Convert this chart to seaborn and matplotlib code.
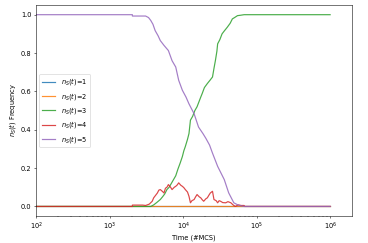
import numpy as np
import pandas as pd
import seaborn as sns
import matplotlib.pyplot as plt

log_t_flat = [2.0, 6.0]
freq_n1 = [0.0, 0.0]
freq_n2 = [0.0, 0.0]

log_t_n3 = [2.0, 3.56, 3.60, 3.64, 3.69, 3.72, 3.75, 3.78, 3.81, 3.84, 3.87, 3.90, 3.93,
            3.96, 3.99, 4.01, 4.03, 4.06, 4.08, 4.10, 4.13, 4.16, 4.19, 4.22, 4.24,
            4.26, 4.29, 4.33, 4.37, 4.40, 4.42, 4.44, 4.46, 4.47, 4.50, 4.53, 4.56,
            4.60, 4.64, 4.67, 4.70, 4.74, 4.78, 4.83, 6.0]
freq_n3 = [0.0, 0.0, 0.008, 0.02, 0.036, 0.05, 0.065, 0.088, 0.1, 0.12, 0.14, 0.16, 0.195,
           0.226, 0.26, 0.29, 0.312, 0.35, 0.38, 0.45, 0.47, 0.5, 0.52, 0.55, 0.57,
           0.589, 0.62, 0.641, 0.66, 0.675, 0.72, 0.762, 0.81, 0.848, 0.87, 0.9, 0.915,
           0.934, 0.955, 0.978, 0.985, 0.995, 0.997, 1.0, 1.0]

log_t_n4 = [2.0, 3.31, 3.31, 3.45, 3.49, 3.54, 3.58, 3.60, 3.63, 3.65, 3.67, 3.69, 3.72, 3.74,
            3.76, 3.78, 3.80, 3.83, 3.85, 3.88, 3.90, 3.92, 3.94, 3.97, 3.99, 4.01,
            4.03, 4.06, 4.08, 4.10, 4.12, 4.15, 4.17, 4.19, 4.22, 4.24, 4.26, 4.28,
            4.31, 4.33, 4.35, 4.37, 4.40, 4.42, 4.45, 4.47, 4.49, 4.51, 4.54, 4.58,
            4.61, 4.65, 4.68, 4.71, 4.75, 4.79, 4.83, 4.84, 6.0]
freq_n4 = [0.0, 0.0, 0.007, 0.007, 0.005, 0.012, 0.027, 0.045, 0.06, 0.07, 0.085, 0.088, 0.078, 0.07,
           0.095, 0.1, 0.114, 0.1, 0.088, 0.1, 0.105, 0.112, 0.123, 0.11, 0.105, 0.098,
           0.088, 0.075, 0.053, 0.019, 0.03, 0.036, 0.05, 0.062, 0.05, 0.045, 0.035, 0.027,
           0.04, 0.045, 0.058, 0.07, 0.079, 0.036, 0.03, 0.019, 0.03, 0.027, 0.02, 0.019,
           0.025, 0.019, 0.008, 0.0, 0.008, 0.005, 0.005, 0.0, 0.0]

log_t_n5 = [2.0, 3.31, 3.31, 3.49, 3.53, 3.56, 3.59, 3.62, 3.66, 3.69, 3.74, 3.80, 3.85,
            3.90, 3.94, 3.99, 4.04, 4.08, 4.15, 4.21, 4.27, 4.31, 4.36, 4.40, 4.47,
            4.56, 4.62, 4.69, 4.75, 4.83, 6.0]
freq_n5 = [1.0, 1.0, 0.993, 0.993, 0.985, 0.97, 0.95, 0.917, 0.89, 0.865, 0.84, 0.813, 0.76,
           0.727, 0.658, 0.606, 0.57, 0.535, 0.483, 0.414, 0.38, 0.355, 0.32, 0.278, 0.209,
           0.14, 0.071, 0.019, 0.007, 0.0, 0.0]

series = [
    (1, log_t_flat, freq_n1),
    (2, log_t_flat, freq_n2),
    (3, log_t_n3, freq_n3),
    (4, log_t_n4, freq_n4),
    (5, log_t_n5, freq_n5),
]
colors = sns.color_palette('tab10', 5)

fig, ax = plt.subplots(figsize=(368 / 48, 243 / 48), dpi=48)
for (n, lt, fr), c in zip(series, colors):
    d = pd.DataFrame({'time': 10 ** np.array(lt), 'freq': fr})
    sns.lineplot(data=d, x='time', y='freq', color=c, estimator=None, sort=False,
                 lw=1.8, alpha=0.85, label=f'$n_S(t)$={n}', ax=ax)
ax.set_xscale('log')
ax.set_xlim(100, 10 ** 6.3)
ax.set_ylim(-0.05, 1.05)
ax.set_xlabel('Time (#MCS)')
ax.set_ylabel('$n_S(t)$ Frequency')
ax.legend(loc='center left')
fig.subplots_adjust(left=0.098, right=0.957, top=0.979, bottom=0.111)
fig.savefig('out.png', dpi=48)
